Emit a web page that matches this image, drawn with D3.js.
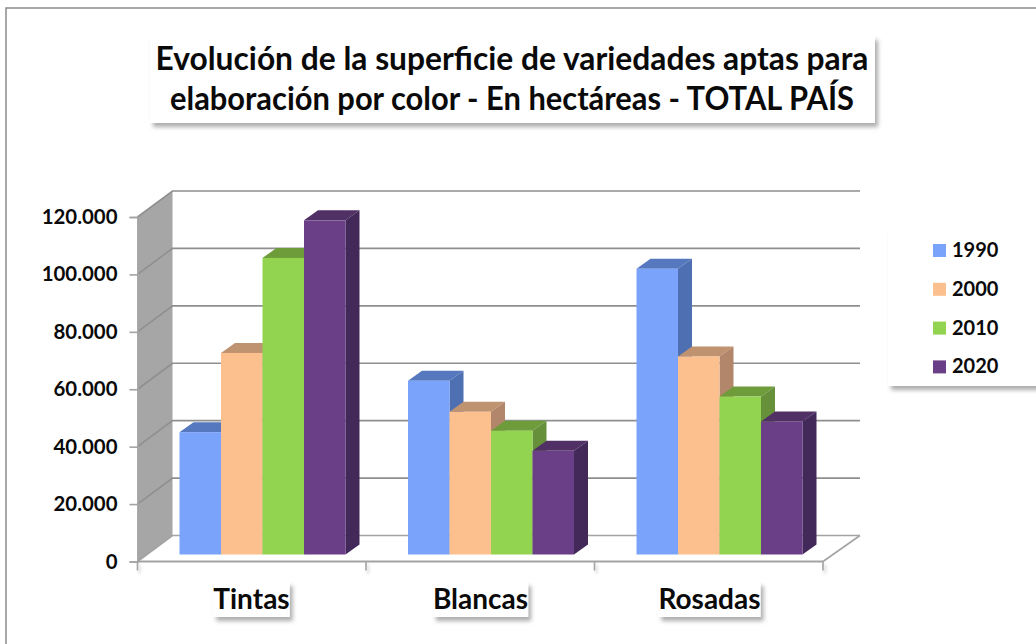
<!DOCTYPE html>
<html><head><meta charset="utf-8">
<style>html,body{margin:0;padding:0;background:#fff}svg{display:block}text{font-family:Lato,"Open Sans",sans-serif;font-weight:700;fill:#0a0a0a}</style>
<script src="https://cdn.jsdelivr.net/npm/d3@7"></script></head><body>
<script>
const categories = ["Tintas","Blancas","Rosadas"];
const years = ["1990","2000","2010","2020"];
const v1990 = [42600,60500,99500];
const v2000 = [70200,49700,69000];
const v2010 = [103300,43100,55000];
const v2020 = [116400,36100,46300];
const yTicks = [0,20000,40000,60000,80000,100000,120000];
const titleLines = ["Evolución de la superficie de variedades aptas para","elaboración por color - En hectáreas - TOTAL PAÍS"];
const front = ["#7aa3fb","#fcc08f","#92d350","#6b3f87"];
const topC = ["#5578bf","#bf9270","#6e9c3b","#503065"];
const sideC = ["#4f6fb3","#b2866a","#66913a","#42295a"];
const series = [v1990,v2000,v2010,v2020];
const W=1036,H=644;
const svg=d3.select("body").append("svg").attr("width",W).attr("height",H);
const defs=svg.append("defs");
const f=defs.append("filter").attr("id","sh").attr("x","-10%").attr("y","-20%").attr("width","125%").attr("height","150%");
f.append("feDropShadow").attr("dx",3).attr("dy",4).attr("stdDeviation",2).attr("flood-color","#000").attr("flood-opacity",.32);
const tf=defs.append("filter").attr("id","tickS").attr("filterUnits","userSpaceOnUse").attr("x",0).attr("y",0).attr("width",W).attr("height",H);
tf.append("feDropShadow").attr("dx",2).attr("dy",3).attr("stdDeviation",1.5).attr("flood-color","#000").attr("flood-opacity",.2);

svg.append("path").attr("d",`M6,${H}L6,8L${W},8`).attr("fill","none").attr("stroke","#8c8c8c").attr("stroke-width",1.5);

const x0=137.5, dx=35, dy=-26;
const y=d3.scaleLinear().domain([0,120000]).range([561.5,217]);
const x=d3.scaleBand().domain(categories).range([x0,823]);
const inner=d3.scaleBand().domain(years).range([42,42+166]);
const base=-7;
const barDx=14, barDy=-10;
const grid="#a3a3a3";

svg.append("path").attr("d",`M${x0},${y(0)}L${x0+dx},${y(0)+dy}L${x0+dx},${y(120000)+dy}L${x0},${y(120000)}Z`).attr("fill","#a6a6a6");
const g=svg.append("g").attr("fill","none").attr("stroke",grid).attr("stroke-width",1.6);
yTicks.forEach(t=>{
  g.append("path").attr("d",`M${x0},${y(t)}L${x0+dx},${y(t)+dy}L${860},${y(t)+dy}`).attr("stroke",t===0?"#a3a3a3":"#8f8f8f");
});
g.append("path").attr("d",`M${x(categories[2])+x.bandwidth()},${y(0)}L860,${y(0)+dy}`);
g.append("path").attr("d",`M${x0},${y(0)}L${x(categories[2])+x.bandwidth()},${y(0)}`).attr("stroke-width",2);

const yAxis=d3.axisLeft(y).tickValues(yTicks).tickSize(8).tickPadding(12).tickFormat(d=>d3.format(",")(d).replace(/,/g,"."));
const ya=svg.append("g").attr("transform",`translate(${x0},0)`).call(yAxis);
ya.select(".domain").attr("stroke",grid).attr("stroke-width",1.6);
ya.selectAll(".tick line").attr("stroke",grid).attr("stroke-width",1.6);
ya.selectAll("text").style("font-size","20.4px").attr("fill","#0a0a0a");

const catEdges=[0,1,2,3].map(i=>x0+i*x.step());
svg.append("g").attr("filter","url(#tickS)").selectAll("line").data(catEdges).join("line")
  .attr("x1",d=>d).attr("x2",d=>d).attr("y1",y(0)).attr("y2",y(0)+9).attr("stroke",grid).attr("stroke-width",1.6);

categories.forEach((c,ci)=>{
  const gx=svg.append("g");
  years.forEach((yr,si)=>{
    const xl=x(c)+inner(yr), w=inner.bandwidth(), v=series[si][ci];
    const top=y(v)+base, bot=y(0)+base;
    gx.append("path").attr("d",`M${xl},${top}L${xl+barDx},${top+barDy}L${xl+w+barDx},${top+barDy}L${xl+w},${top}Z`).attr("fill",topC[si]);
    gx.append("path").attr("d",`M${xl+w},${top}L${xl+w+barDx},${top+barDy}L${xl+w+barDx},${bot+barDy}L${xl+w},${bot}Z`).attr("fill",sideC[si]);
  });
  years.forEach((yr,si)=>{
    const xl=x(c)+inner(yr), w=inner.bandwidth(), v=series[si][ci];
    gx.append("rect").attr("x",xl).attr("y",y(v)+base).attr("width",w).attr("height",y(0)-y(v)).attr("fill",front[si]);
  });
});

function box(cx,cy,w,h){svg.append("rect").attr("x",cx).attr("y",cy).attr("width",w).attr("height",h).attr("fill","#fff").attr("filter","url(#sh)");}
const catCx=[251.5,480.5,709.5];
categories.forEach((c,i)=>{
  const t=svg.append("text").attr("x",catCx[i]).attr("y",609).attr("text-anchor","middle").style("font-size","28px").text(c);
  const b=t.node().getBBox();
  t.remove();
  box(b.x,582,b.width,35);
  svg.append("text").attr("x",catCx[i]).attr("y",609).attr("text-anchor","middle").style("font-size","28px").text(c);
});

box(150,36,725,87);
const titleFit=[713,684];
svg.append("g").selectAll("text").data(titleLines).join("text")
  .attr("x",512).attr("y",(d,i)=>70+i*40).attr("text-anchor","middle").style("font-size","31.6px")
  .attr("textLength",(d,i)=>titleFit[i]).attr("lengthAdjust","spacingAndGlyphs").text(d=>d);

box(888,230,170,156);
const lg=svg.append("g").selectAll("g").data(years).join("g").attr("transform",(d,i)=>`translate(933,${244+i*38.8})`);
lg.append("rect").attr("width",13).attr("height",13).attr("fill",(d,i)=>front[i]);
lg.append("text").attr("x",19).attr("y",13).style("font-size","20px").text(d=>d);
</script></body></html>
